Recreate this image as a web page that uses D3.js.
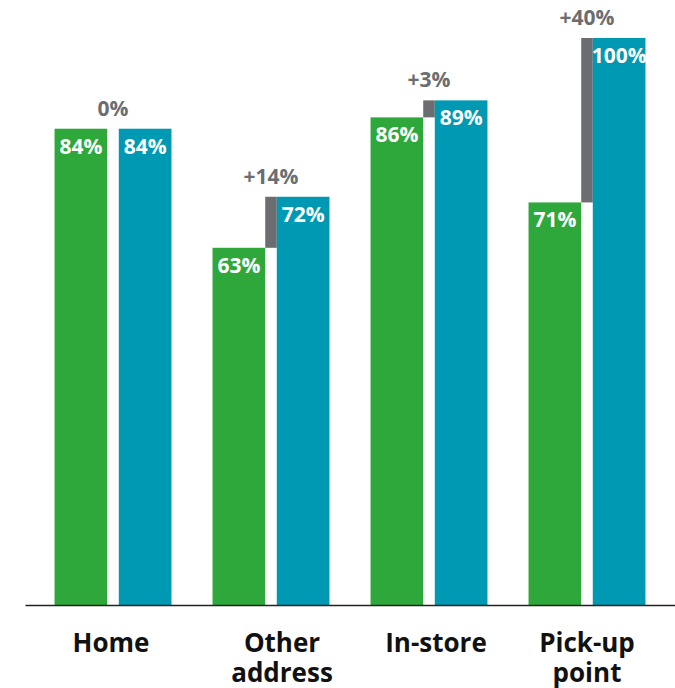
<!DOCTYPE html>
<html>
<head>
<meta charset="utf-8">
<script src="https://cdn.jsdelivr.net/npm/d3@7"></script>
<style>
  html, body { margin: 0; padding: 0; background: #fff; }
  svg { display: block; }
  text { font-family: "Open Sans", "Noto Sans", sans-serif; font-weight: 700; }
</style>
</head>
<body>
<svg id="chart" width="675" height="688"></svg>
<script>
// Delivery options and the share values before / after
const categories = [["Home"], ["Other", "address"], ["In-store"], ["Pick-up", "point"]];
const categoryKeys = ["Home", "Other address", "In-store", "Pick-up point"];
const before = [84, 63, 86, 71];
const after = [84, 72, 89, 100];
const uplift = ["0%", "+14%", "+3%", "+40%"];
const series = ["before", "after"];

const colors = { before: "#2ea83a", after: "#0099b3", uplift: "#6b6d71", label: "#111111" };

const baseY = 605, topY = 38;
const svg = d3.select("#chart");

const x0 = d3.scaleBand().domain(categoryKeys).range([25, 675]).paddingInner(0.26).paddingOuter(0.187);
const x1 = d3.scaleBand().domain(series).range([0, x0.bandwidth()]).paddingInner(0.18);
const y = d3.scaleLinear().domain([0, 100]).range([baseY, topY]);

const rows = categoryKeys.map((k, i) => ({ key: k, lines: categories[i], before: before[i], after: after[i], uplift: uplift[i] }));

const groups = svg.selectAll("g.group").data(rows).join("g")
  .attr("class", "group")
  .attr("transform", d => `translate(${x0(d.key)},0)`);

// uplift connector between the two bars
groups.filter(d => d.after > d.before).append("rect")
  .attr("x", x1("before") + x1.bandwidth())
  .attr("width", x1("after") - x1("before") - x1.bandwidth())
  .attr("y", d => y(d.after))
  .attr("height", d => y(d.before) - y(d.after))
  .attr("fill", colors.uplift);

// bars
groups.selectAll("rect.bar").data(d => series.map(s => ({ s, v: d[s] }))).join("rect")
  .attr("class", "bar")
  .attr("x", d => x1(d.s))
  .attr("width", x1.bandwidth())
  .attr("y", d => y(d.v))
  .attr("height", d => baseY - y(d.v))
  .attr("fill", d => colors[d.s]);

// value labels inside bar tops
groups.selectAll("text.val").data(d => series.map(s => ({ s, v: d[s] }))).join("text")
  .attr("class", "val")
  .attr("x", d => x1(d.s) + x1.bandwidth() / 2)
  .attr("y", d => y(d.v) + 25)
  .attr("text-anchor", "middle")
  .attr("fill", "#fff")
  .attr("font-size", 21)
  .text(d => d.v + "%");

// uplift labels above the gap
groups.append("text")
  .attr("x", (x1("before") + x1.bandwidth() + x1("after")) / 2)
  .attr("y", d => y(d.after) - 13)
  .attr("text-anchor", "middle")
  .attr("fill", colors.uplift)
  .attr("font-size", 21)
  .text(d => d.uplift);

// baseline axis
const axis = d3.axisBottom(x0).tickSize(0).tickSizeOuter(0).tickFormat("");
svg.append("g")
  .attr("transform", `translate(0,${baseY})`)
  .call(axis)
  .call(g => g.select(".domain").attr("stroke", "#222").attr("stroke-width", 1.5));

// category labels (small nudges to balance the wrapped text)
const labelNudge = [-2, 11, 7, 0];
const labels = svg.selectAll("text.cat").data(rows).join("text")
  .attr("class", "cat")
  .attr("text-anchor", "middle")
  .attr("fill", colors.label)
  .attr("font-size", 26)
  .attr("transform", (d, i) => `translate(${x0(d.key) + x0.bandwidth() / 2 + labelNudge[i]},652)`);
labels.selectAll("tspan").data(d => d.lines).join("tspan")
  .attr("x", 0)
  .attr("dy", (d, i) => i === 0 ? 0 : 30)
  .text(d => d);
</script>
</body>
</html>
